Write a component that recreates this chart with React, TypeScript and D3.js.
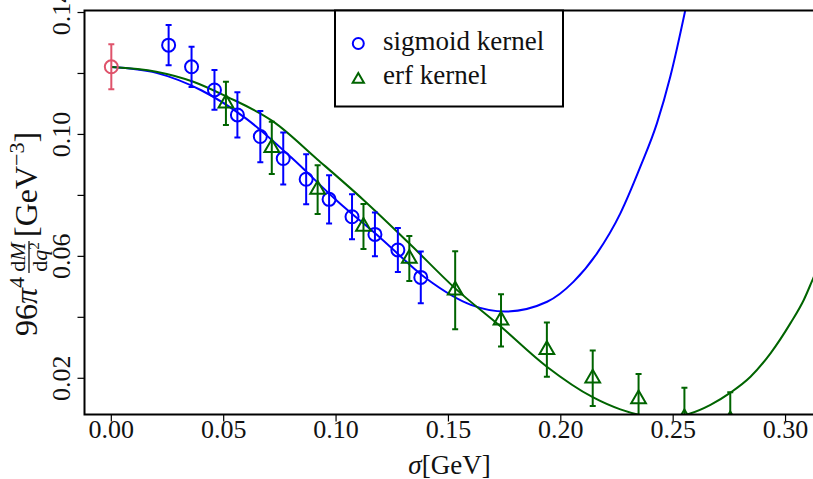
import React from "react";
import * as d3 from "d3";

// Sigmoid-kernel reconstruction points
const sigmoidSigma = [0.0255, 0.0357, 0.0459, 0.0561, 0.0663, 0.0765, 0.0867, 0.0969, 0.1071, 0.1173, 0.1275, 0.1377];
const sigmoidValue = [0.1293, 0.1222, 0.1146, 0.1064, 0.0993, 0.0921, 0.0853, 0.0787, 0.0730, 0.0672, 0.0621, 0.0531];
const sigmoidError = [0.0066, 0.0066, 0.0065, 0.0074, 0.0084, 0.0085, 0.0082, 0.0079, 0.0074, 0.0072, 0.0072, 0.0085];

// Erf-kernel reconstruction points
const erfSigma = [0.051, 0.0714, 0.0918, 0.1122, 0.1326, 0.153, 0.1734, 0.1938, 0.2142, 0.2346, 0.255, 0.2754];
const erfValue = [0.1102, 0.0956, 0.0819, 0.0698, 0.0593, 0.0489, 0.0390, 0.0294, 0.0200, 0.0132, 0.0070, 0.0063];
const erfError = [0.0071, 0.0086, 0.0080, 0.0074, 0.0074, 0.0128, 0.0086, 0.0089, 0.0091, 0.0082, 0.0099, 0.0091];

// Common point at sigma = 0
const zeroSigma = [0];
const zeroValue = [0.1222];
const zeroError = [0.0074];

// Fitted curves
const sigmoidCurveSigma = [0, 0.02, 0.04, 0.06, 0.08, 0.10, 0.12, 0.14, 0.16, 0.1753, 0.1939, 0.2057, 0.2161, 0.2265, 0.2354, 0.2428, 0.2487, 0.2554, 0.262];
const sigmoidCurveValue = [0.1221, 0.1202, 0.1145, 0.1052, 0.0925, 0.0785, 0.0659, 0.0528, 0.0441, 0.0419, 0.0451, 0.0517, 0.0610, 0.0741, 0.0894, 0.1037, 0.1189, 0.1408, 0.165];

const erfCurveSigma = [0, 0.02, 0.0365, 0.0514, 0.0721, 0.0917, 0.1122, 0.1325, 0.153, 0.1734, 0.1938, 0.2142, 0.2265, 0.2447, 0.2569, 0.2666, 0.2755, 0.2844, 0.2933, 0.3022, 0.3081, 0.3123, 0.316];
const erfCurveValue = [0.1221, 0.1206, 0.1173, 0.1124, 0.1042, 0.0918, 0.0785, 0.0643, 0.0495, 0.0369, 0.0238, 0.0138, 0.0098, 0.0070, 0.0083, 0.0113, 0.0153, 0.0205, 0.0282, 0.0381, 0.0457, 0.0528, 0.059];

const xTicks = [0, 0.05, 0.1, 0.15, 0.2, 0.25, 0.3];
const yTicks = [0.02, 0.04, 0.06, 0.08, 0.1, 0.12, 0.14];
const yTickLabels = ["0.02", "", "0.06", "", "0.10", "", "0.14"];
const legendLabels = ["sigmoid kernel", "erf kernel"];

const W = 813;
const H = 479;
const plot = { left: 84.5, right: 814.5, top: 10.5, bottom: 414.5 };
const FONT = '"Liberation Serif", "Times New Roman", serif';
const BLUE = "#0000ff";
const GREEN = "#006400";
const RED = "#df536b";
const INK = "#111";
const textStyle = { fontFamily: FONT };

const x = d3.scaleLinear().domain([-0.01193, 0.31288]).range([plot.left, plot.right]);
const y = d3.scaleLinear().domain([0.00812, 0.14066]).range([plot.bottom, plot.top]);

const line = d3
  .line<[number, number]>()
  .x((d) => x(d[0]))
  .y((d) => y(d[1]))
  .curve(d3.curveMonotoneX);

function zip(a: number[], b: number[]): [number, number][] {
  return a.map((v, i) => [v, b[i]]);
}

function ErrorBars({ s, v, e, color }: { s: number[]; v: number[]; e: number[]; color: string }) {
  return (
    <g stroke={color} strokeWidth={2} fill="none">
      {s.map((si, i) => {
        const cx = x(si);
        const y1 = y(v[i] + e[i]);
        const y2 = y(v[i] - e[i]);
        return (
          <g key={i}>
            <line x1={cx} x2={cx} y1={y1} y2={y2} />
            <line x1={cx - 3} x2={cx + 3} y1={y1} y2={y1} />
            <line x1={cx - 3} x2={cx + 3} y1={y2} y2={y2} />
          </g>
        );
      })}
    </g>
  );
}

function trianglePath(cx: number, cy: number, r: number) {
  const xc = (r * Math.sqrt(3)) / 2;
  return `M${cx},${cy - r}L${cx + xc},${cy + r / 2}L${cx - xc},${cy + r / 2}Z`;
}

export default function App() {
  const sigmoidPath = line(zip(sigmoidCurveSigma, sigmoidCurveValue)) || "";
  const erfPath = line(zip(erfCurveSigma, erfCurveValue)) || "";

  return (
    <svg width={W} height={H} style={{ position: "absolute", left: 0, top: 0, background: "#fff" }}>
      <defs>
        <clipPath id="plotArea">
          <rect x={plot.left} y={plot.top} width={plot.right - plot.left} height={plot.bottom - plot.top} />
        </clipPath>
      </defs>
      <rect x={0} y={0} width={W} height={H} fill="#fff" />

      <g clipPath="url(#plotArea)">
        <path d={sigmoidPath} fill="none" stroke={BLUE} strokeWidth={2} />
        <path d={erfPath} fill="none" stroke={GREEN} strokeWidth={2} />

        <ErrorBars s={sigmoidSigma} v={sigmoidValue} e={sigmoidError} color={BLUE} />
        {sigmoidSigma.map((s, i) => (
          <circle key={i} cx={x(s)} cy={y(sigmoidValue[i])} r={6.5} fill="none" stroke={BLUE} strokeWidth={2} />
        ))}

        <ErrorBars s={erfSigma} v={erfValue} e={erfError} color={GREEN} />
        {erfSigma.map((s, i) => (
          <path key={i} d={trianglePath(x(s), y(erfValue[i]), 8.5)} fill="none" stroke={GREEN} strokeWidth={2} />
        ))}

        <ErrorBars s={zeroSigma} v={zeroValue} e={zeroError} color={RED} />
        {zeroSigma.map((s, i) => (
          <circle key={i} cx={x(s)} cy={y(zeroValue[i])} r={6.5} fill="none" stroke={RED} strokeWidth={2} />
        ))}
      </g>

      {/* frame */}
      <rect
        x={plot.left}
        y={plot.top}
        width={plot.right - plot.left}
        height={plot.bottom - plot.top}
        fill="none"
        stroke="#000"
        strokeWidth={2}
      />

      {/* x axis */}
      {xTicks.map((t) => (
        <g key={t}>
          <line x1={x(t)} x2={x(t)} y1={plot.bottom} y2={plot.bottom + 7} stroke="#000" strokeWidth={1.2} />
          <text x={x(t)} y={438} fontSize={26} textAnchor="middle" fill={INK} style={textStyle}>
            {t.toFixed(2)}
          </text>
        </g>
      ))}
      <text x={(plot.left + plot.right) / 2} y={474} fontSize={27} textAnchor="middle" fill={INK} style={textStyle}>
        <tspan fontStyle="italic">σ</tspan>
        <tspan>[GeV]</tspan>
      </text>

      {/* y axis */}
      {yTicks.map((t, i) => (
        <g key={t}>
          <line x1={plot.left - 7} x2={plot.left} y1={y(t)} y2={y(t)} stroke="#000" strokeWidth={1.2} />
          {yTickLabels[i] && (
            <text
              transform={`translate(70,${y(t)}) rotate(-90)`}
              fontSize={26}
              textAnchor="middle"
              fill={INK}
              style={textStyle}
            >
              {yTickLabels[i]}
            </text>
          )}
        </g>
      ))}

      {/* y axis title: 96 pi^4 dM/dq^2 [GeV^-3] */}
      <g transform="translate(37,336) rotate(-90)" fill={INK} style={textStyle}>
        <text x={0} y={0} fontSize={32}>
          <tspan>96</tspan>
          <tspan fontStyle="italic">π</tspan>
          <tspan fontSize={22} dy={-13}>4</tspan>
        </text>
        <text x={79} y={-12} fontSize={22} textAnchor="middle">
          <tspan>d</tspan>
          <tspan fontStyle="italic">M</tspan>
        </text>
        <line x1={63} x2={95} y1={-8} y2={-8} stroke={INK} strokeWidth={1.3} />
        <text x={79} y={10} fontSize={22} textAnchor="middle">
          <tspan>d</tspan>
          <tspan fontStyle="italic">q</tspan>
          <tspan fontSize={15} dy={-8}>2</tspan>
        </text>
        <text x={99} y={0} fontSize={32}>
          <tspan>[GeV</tspan>
          <tspan fontSize={22} dy={-13}>−3</tspan>
          <tspan dy={13}>]</tspan>
        </text>
      </g>

      {/* legend */}
      <rect x={335} y={10.5} width={228} height={96} fill="#fff" stroke="#000" strokeWidth={2} />
      <circle cx={358.3} cy={43.5} r={5.5} fill="none" stroke={BLUE} strokeWidth={2} />
      <path d={trianglePath(358.3, 79.5, 6.5)} fill="none" stroke={GREEN} strokeWidth={2} />
      <text x={383} y={50} fontSize={27} fill={INK} style={textStyle}>
        {legendLabels[0]}
      </text>
      <text x={383} y={84} fontSize={27} fill={INK} style={textStyle}>
        {legendLabels[1]}
      </text>
    </svg>
  );
}
